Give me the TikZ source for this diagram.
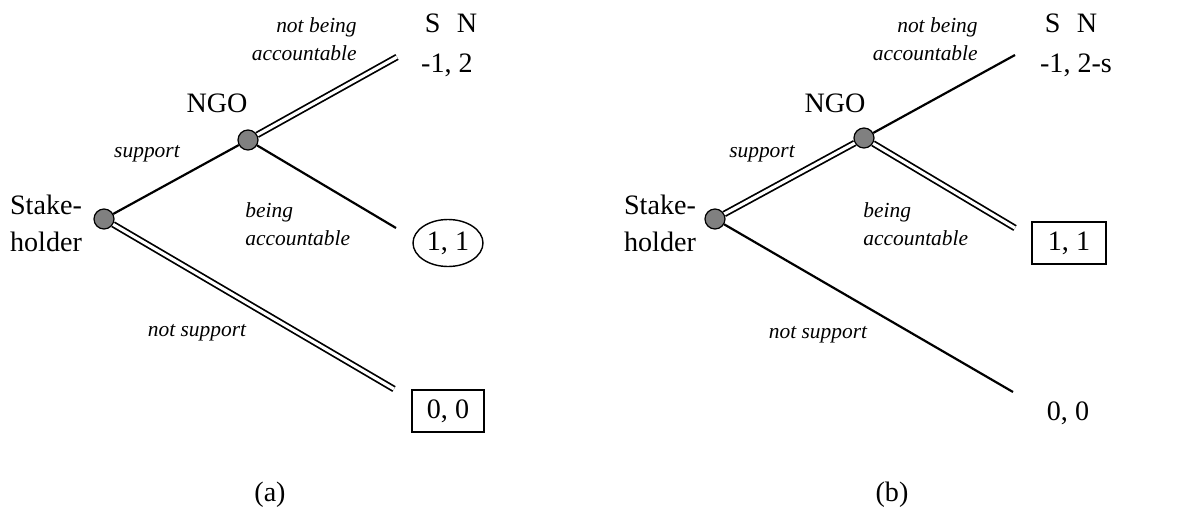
\documentclass[tikz,border=0pt]{standalone}
\usepackage{fontspec}
\setmainfont{Liberation Serif}
\usepackage{tikz}
\usetikzlibrary{positioning, shapes.geometric}

\begin{document}
\begin{tikzpicture}[
  x=0.02cm, y=-0.02cm,
  font=\fontsize{16}{21}\selectfont,
  player/.style={
    circle, draw=black, line width=0.7pt, fill=black!50,
    minimum size=0.4cm, inner sep=0pt
  },
  move/.style={draw=black, line width=1.25pt},
  best/.style={
    draw=black, line width=1pt, double=white, double distance=1.8pt
  },
  who/.style={align=center, inner sep=0pt},
  note/.style={font=\fontsize{12.2}{16}\selectfont\itshape, inner sep=0pt},
  payoff/.style={inner sep=0pt},
  payrect/.style={
    draw=black, line width=0.8pt, minimum width=1.44cm, minimum height=0.84cm,
    inner sep=0pt
  },
  payoval/.style={
    ellipse, draw=black, line width=0.8pt, minimum width=1.4cm,
    minimum height=0.94cm, inner sep=0pt
  }
]
  \useasboundingbox (0,0) rectangle (1187,517);

  % (a)
  \node[player] (sa) at (104,219) {};
  \node[player] (na) at (248,140) {};
  \coordinate (ta) at (397,57);
  \coordinate (ma) at (396,228);
  \coordinate (ba) at (394,389);

  \draw[move] (sa) -- (na);
  \draw[best] (sa) -- (ba);
  \draw[best] (na) -- (ta);
  \draw[move] (na) -- (ma);

  \node[who] at (46,223) {Stake-\\holder};
  \node[who] at (217,103) {NGO};
  \node[note] at (147,154) {support};
  \node[note, align=right, anchor=east] at (357,39) {not being\\accountable};
  \node[note, align=left, anchor=west] at (245,224) {being\\accountable};
  \node[note] at (197,333) {not support};

  \node[payoff] at (451,23) {S\hspace{3.3mm}N};
  \node[payoff] at (447,65) {-1, 2};
  \node[payoval] at (448,243) {1, 1};
  \node[payrect] at (448,411) {0, 0};
  \node[payoff] at (270,495) {(a)};

  % (b)
  \node[player] (sb) at (715,219) {};
  \node[player] (nb) at (864,138) {};
  \coordinate (tb) at (1015,55);
  \coordinate (mb) at (1015,228);
  \coordinate (bb) at (1013,392);

  \draw[best] (sb) -- (nb);
  \draw[move] (sb) -- (bb);
  \draw[move] (nb) -- (tb);
  \draw[best] (nb) -- (mb);

  \node[who] at (660,223) {Stake-\\holder};
  \node[who] at (835,103) {NGO};
  \node[note] at (762,154) {support};
  \node[note, align=right, anchor=east] at (978,39) {not being\\accountable};
  \node[note, align=left, anchor=west] at (863,224) {being\\accountable};
  \node[note] at (818,335) {not support};

  \node[payoff] at (1071,23) {S\hspace{3.3mm}N};
  \node[payoff] at (1076,65) {-1, 2-s};
  \node[payrect, minimum width=1.48cm] at (1069,243) {1, 1};
  \node[payoff] at (1068,413) {0, 0};
  \node[payoff] at (892,495) {(b)};
\end{tikzpicture}
\end{document}
